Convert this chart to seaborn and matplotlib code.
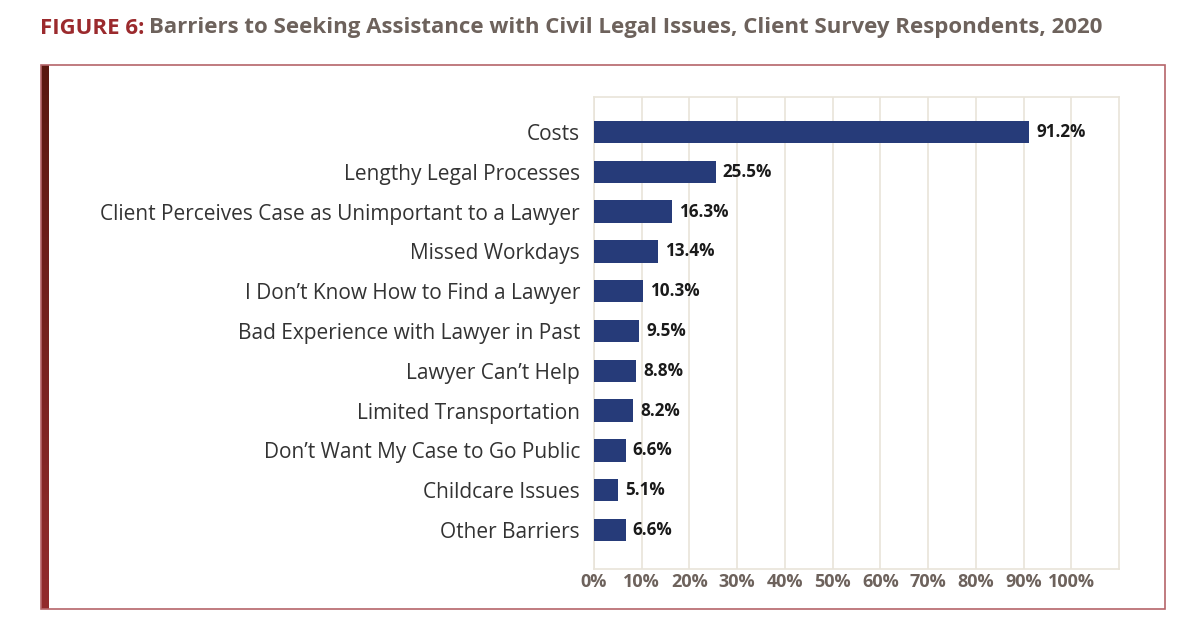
import numpy as np
import matplotlib
matplotlib.use("Agg")
import matplotlib.pyplot as plt
import seaborn as sns
from matplotlib.patches import Rectangle

# Daten
categories = [
    "Costs",
    "Lengthy Legal Processes",
    "Client Perceives Case as Unimportant to a Lawyer",
    "Missed Workdays",
    "I Don\u2019t Know How to Find a Lawyer",
    "Bad Experience with Lawyer in Past",
    "Lawyer Can\u2019t Help",
    "Limited Transportation",
    "Don\u2019t Want My Case to Go Public",
    "Childcare Issues",
    "Other Barriers",
]
values = [91.2, 25.5, 16.3, 13.4, 10.3, 9.5, 8.8, 8.2, 6.6, 5.1, 6.6]
x_ticks = list(range(0, 101, 10))

sns.set_style("white")
plt.rcParams["font.family"] = ["Open Sans", "DejaVu Sans"]

fig = plt.figure(figsize=(12, 6.33), dpi=100)
fig.patch.set_facecolor("white")

# Rahmen
frame = Rectangle((41 / 1200, 1 - 609 / 633), (1165 - 41) / 1200, (609 - 65) / 633,
                  transform=fig.transFigure, facecolor="none", edgecolor="#b5656a",
                  linewidth=1.2, zorder=0)
fig.patches.append(frame)

# linker Balken mit Verlauf
bar_ax = fig.add_axes([41 / 1200, 1 - 609 / 633, 8 / 1200, (609 - 65) / 633])
grad = np.linspace(0, 1, 256).reshape(-1, 1)
cmap = matplotlib.colors.LinearSegmentedColormap.from_list("frame", ["#5a1810", "#922b2d"])
bar_ax.imshow(grad, aspect="auto", cmap=cmap)
bar_ax.axis("off")

ax = fig.add_axes([594 / 1200, 1 - 569 / 633, (1119 - 594) / 1200, (569 - 97) / 633])
sns.barplot(x=values, y=categories, color="#263b79", saturation=1, width=0.56,
            linewidth=0, ax=ax, zorder=3)

ax.set_xlim(0, 110)
ax.set_ylim(10.98, -0.88)
ax.set_xticks(x_ticks)
ax.set_xticklabels([f"{t}%" for t in x_ticks], fontsize=13, fontweight="bold", color="#6d625c")
ax.tick_params(axis="x", length=0, pad=3)
ax.tick_params(axis="y", length=0, pad=10, labelsize=15, labelcolor="#333333")
ax.set_xlabel("")
ax.set_ylabel("")
ax.grid(True, axis="x", color="#e9e4d9", linewidth=1.2, zorder=0)
ax.set_axisbelow(True)
for s in ax.spines.values():
    s.set_color("#e9e4d9")
    s.set_linewidth(1.2)

ax.bar_label(ax.containers[0], labels=[f"{v}%" for v in values], padding=5,
             fontsize=12.3, fontweight="bold", color="#1a1a1a")

# Titel
t1 = fig.text(40 / 1200, 1 - 28 / 633, "FIGURE 6:", fontsize=16, fontweight="bold",
              color="#9b2a2d", va="center", ha="left")
fig.canvas.draw()
bb = t1.get_window_extent()
fig.text((bb.x1 + 5) / 1200, 1 - 28 / 633,
         "Barriers to Seeking Assistance with Civil Legal Issues, Client Survey Respondents, 2020",
         fontsize=16, fontweight="bold", color="#6d625c", va="center", ha="left")

fig.savefig("out.png", dpi=100)
